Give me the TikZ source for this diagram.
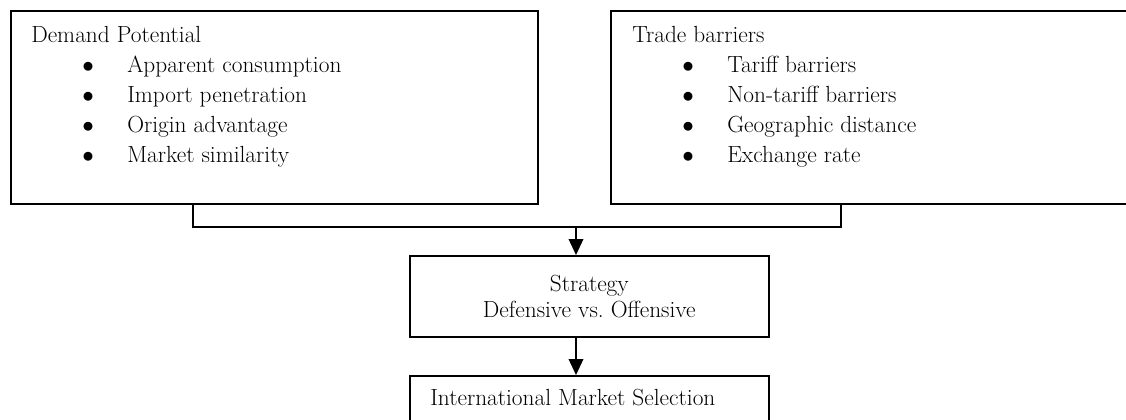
\documentclass[tikz,border=0pt]{standalone}
\usepackage{fontspec}
\usetikzlibrary{arrows.meta,calc}
\tikzset{
  box/.style={draw, line width=1.2pt, inner sep=0pt, anchor=north west},
  txt/.style={anchor=base west, inner sep=0pt, font=\fontsize{17.5}{19.5}\selectfont},
  line/.style={line width=1.1pt},
  arr/.style={line width=1.1pt, -{Triangle[length=12pt,width=11pt]}},
}
\begin{document}
\begin{tikzpicture}[x=0.75pt,y=0.75pt,yscale=-1,xscale=1]
                \useasboundingbox (0,0) rectangle (1126,419);
                % boxes
                \node[box, minimum width=395.25pt, minimum height=144.75pt] (demand) at (10,10) {};
                \node[box, minimum width=397.5pt, minimum height=144.75pt] (trade) at (610,10) {};
                \node[box, minimum width=269.25pt, minimum height=60.75pt, align=center, font=\fontsize{17.5}{19.5}\selectfont] (strategy) at (409,255) {Strategy\\Defensive vs.\ Offensive};
                \node[box, minimum width=269.25pt, minimum height=60.75pt] (ims) at (409,375) {};
                % texts
                \node[txt] (dp) at (31,42) {Demand Potential};
                \foreach \t [count=\i] in {Apparent consumption, Import penetration, Origin advantage, Market similarity} {
                    \node[txt] (dpb\i) at (82,42+30*\i) {$\bullet$};
                    \node[txt] (dpi\i) at (127,42+30*\i) {\t};
                }
                \node[txt] (tb) at (632,42) {Trade barriers};
                \foreach \t [count=\i] in {Tariff barriers, Non-tariff barriers, Geographic distance, Exchange rate} {
                    \node[txt] (tbb\i) at (682,42+30*\i) {$\bullet$};
                    \node[txt] (tbi\i) at (727,42+30*\i) {\t};
                }
                \node[txt] (imstxt) at (430,405) {International Market Selection};
                % connectors
                \coordinate (join) at (576,227);
                \draw[line] (demand.south west) ++(183,0) |- (join) -| ($(trade.south west)+(231,0)$);
                \draw[arr] (join) -- (join |- strategy.north);
                \draw[arr] (strategy.south -| join) -- (ims.north -| join);
            \end{tikzpicture}
\end{document}
